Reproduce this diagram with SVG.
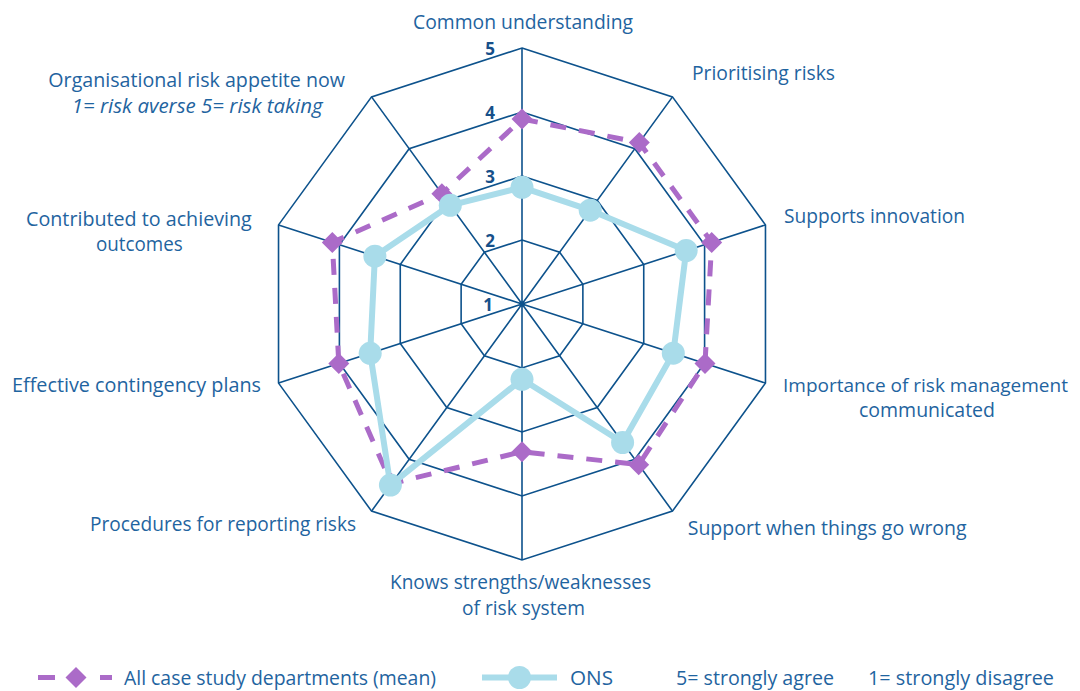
<svg xmlns="http://www.w3.org/2000/svg" xmlns:xlink="http://www.w3.org/1999/xlink" width="1080" height="691" viewBox="0 0 1080 691">
<style>
.lbl{font-family:"Open Sans","Liberation Sans",sans-serif;font-size:20px;fill:#1f64a0;text-anchor:middle}
.it{font-style:italic}
.sm{font-size:19px}
.lg{font-family:"Open Sans","Liberation Sans",sans-serif;font-size:20px;fill:#1f64a0;text-anchor:start}
.num{font-family:"Open Sans","Liberation Sans",sans-serif;font-size:17px;font-weight:bold;fill:#17508a;text-anchor:end}
.grid{fill:none;stroke:#0d528c;stroke-width:1.6;stroke-linejoin:miter}
.mean{fill:none;stroke:#ab6bc8;stroke-width:5;stroke-dasharray:16 13}
.ons{fill:none;stroke:#a9dcea;stroke-width:6;stroke-linejoin:round}
.dia{fill:#ab6bc8}
.dot{fill:#a9dcea}
</style>
<defs>
<path id="diamond" d="M0,-10.5 L10.5,0 L0,10.5 L-10.5,0Z"/>
</defs>
<rect width="1080" height="691" fill="#ffffff"/>

<g id="grid">
<polygon class="grid" points="522,48 672.47,96.89 765.47,224.89 765.47,383.11 672.47,511.11 522,560 371.53,511.11 278.53,383.11 278.53,224.89 371.53,96.89"/>
<polygon class="grid" points="522,112 634.85,148.67 704.6,244.67 704.6,363.33 634.85,459.33 522,496 409.15,459.33 339.4,363.33 339.4,244.67 409.15,148.67"/>
<polygon class="grid" points="522,176 597.24,200.45 643.74,264.45 643.74,343.55 597.24,407.55 522,432 446.76,407.55 400.26,343.55 400.26,264.45 446.76,200.45"/>
<polygon class="grid" points="522,240 559.62,252.22 582.87,284.22 582.87,323.78 559.62,355.78 522,368 484.38,355.78 461.13,323.78 461.13,284.22 484.38,252.22"/>
<path class="grid" d="M522,304 L522,48 M522,304 L672.47,96.89 M522,304 L765.47,224.89 M522,304 L765.47,383.11 M522,304 L672.47,511.11 M522,304 L522,560 M522,304 L371.53,511.11 M522,304 L278.53,383.11 M522,304 L278.53,224.89 M522,304 L371.53,96.89"/>
<circle cx="522" cy="304" r="2.5" fill="#0d528c"/>
</g>

<g id="scale">
<text class="num" x="495" y="55">5</text>
<text class="num" x="495" y="119">4</text>
<text class="num" x="495" y="183">3</text>
<text class="num" x="495" y="247">2</text>
<text class="num" x="493" y="311">1</text>
</g>

<g id="axis-labels">
<g id="lbl-common"><text class="lbl" x="523" y="29" textLength="220" lengthAdjust="spacingAndGlyphs">Common understanding</text></g>
<g id="lbl-prioritising"><text class="lbl" x="763.5" y="80" textLength="143" lengthAdjust="spacingAndGlyphs">Prioritising risks</text></g>
<g id="lbl-innovation"><text class="lbl" x="874.5" y="222.5" textLength="181" lengthAdjust="spacingAndGlyphs">Supports innovation</text></g>
<g id="lbl-importance"><text class="lbl sm" x="925.5" y="391.7" textLength="285" lengthAdjust="spacingAndGlyphs">Importance of risk management</text><text class="lbl" x="927" y="417.3" textLength="136" lengthAdjust="spacingAndGlyphs">communicated</text></g>
<g id="lbl-support"><text class="lbl" x="827.2" y="535" textLength="279" lengthAdjust="spacingAndGlyphs">Support when things go wrong</text></g>
<g id="lbl-knows"><text class="lbl" x="520.5" y="589" textLength="261" lengthAdjust="spacingAndGlyphs">Knows strengths/weaknesses</text><text class="lbl" x="523.5" y="615" textLength="123" lengthAdjust="spacingAndGlyphs">of risk system</text></g>
<g id="lbl-procedures"><text class="lbl" x="223" y="531" textLength="266" lengthAdjust="spacingAndGlyphs">Procedures for reporting risks</text></g>
<g id="lbl-contingency"><text class="lbl" x="136.5" y="392" textLength="249" lengthAdjust="spacingAndGlyphs">Effective contingency plans</text></g>
<g id="lbl-contributed"><text class="lbl" x="138.9" y="225.7" textLength="225.7" lengthAdjust="spacingAndGlyphs">Contributed to achieving</text><text class="lbl" x="139.3" y="250.7" textLength="86.7" lengthAdjust="spacingAndGlyphs">outcomes</text></g>
<g id="lbl-appetite"><text class="lbl" x="196.7" y="86.7" textLength="296.7" lengthAdjust="spacingAndGlyphs">Organisational risk appetite now</text><text class="lbl it" x="197.2" y="113.3" textLength="251" lengthAdjust="spacingAndGlyphs">1= risk averse 5= risk taking</text></g>
</g>

<g id="connectors">
<polygon id="series-mean" class="mean" points="522,119 639.3,142.5 711.7,242.4 705,363.5 638.7,464.7 522,451.7 391.5,483.6 338.8,363.5 332.3,242.4 441.9,193.8"/>
<polygon id="series-ons" class="ons" points="522,187.3 590.2,210.2 686.2,250.6 673.3,353.2 622.6,442.5 522,379.3 390.4,485.1 370.2,353.3 374.9,256.2 450.3,205.3"/>
</g>

<g id="mean-points">
<g id="m0"><use href="#diamond" class="dia" x="522" y="119"/></g>
<g id="m1"><use href="#diamond" class="dia" x="639.3" y="142.5"/></g>
<g id="m2"><use href="#diamond" class="dia" x="711.7" y="242.4"/></g>
<g id="m3"><use href="#diamond" class="dia" x="705" y="363.5"/></g>
<g id="m4"><use href="#diamond" class="dia" x="638.7" y="464.7"/></g>
<g id="m5"><use href="#diamond" class="dia" x="522" y="451.7"/></g>
<g id="m6"><use href="#diamond" class="dia" x="391.5" y="483.6"/></g>
<g id="m7"><use href="#diamond" class="dia" x="338.8" y="363.5"/></g>
<g id="m8"><use href="#diamond" class="dia" x="332.3" y="242.4"/></g>
<g id="m9"><use href="#diamond" class="dia" x="441.9" y="193.8"/></g>
</g>

<g id="ons-points">
<g id="o0"><circle class="dot" cx="522" cy="187.3" r="11.5"/></g>
<g id="o1"><circle class="dot" cx="590.2" cy="210.2" r="11.5"/></g>
<g id="o2"><circle class="dot" cx="686.2" cy="250.6" r="11.5"/></g>
<g id="o3"><circle class="dot" cx="673.3" cy="353.2" r="11.5"/></g>
<g id="o4"><circle class="dot" cx="622.6" cy="442.5" r="11.5"/></g>
<g id="o5"><circle class="dot" cx="522" cy="379.3" r="11.5"/></g>
<g id="o6"><circle class="dot" cx="390.4" cy="485.1" r="11.5"/></g>
<g id="o7"><circle class="dot" cx="370.2" cy="353.3" r="11.5"/></g>
<g id="o8"><circle class="dot" cx="374.9" cy="256.2" r="11.5"/></g>
<g id="o9"><circle class="dot" cx="450.3" cy="205.3" r="11.5"/></g>
</g>

<g id="legend">
<g id="legend-mean">
<path d="M38,677.5 L55,677.5 M100,677.5 L112,677.5" stroke="#ab6bc8" stroke-width="5" fill="none"/>
<use href="#diamond" class="dia" x="76" y="677.5"/>
<text class="lg" x="124" y="684.5" textLength="312" lengthAdjust="spacingAndGlyphs">All case study departments (mean)</text>
</g>
<g id="legend-ons">
<path d="M482,677.5 L557,677.5" stroke="#a9dcea" stroke-width="6" fill="none"/>
<circle class="dot" cx="519.5" cy="677.5" r="11.5"/>
<text class="lg" x="570" y="684.5" textLength="43" lengthAdjust="spacingAndGlyphs">ONS</text>
</g>
<g id="legend-scale">
<text class="lg" x="676" y="684.5" textLength="158" lengthAdjust="spacingAndGlyphs">5= strongly agree</text>
<text class="lg" x="868" y="684.5" textLength="186" lengthAdjust="spacingAndGlyphs">1= strongly disagree</text>
</g>
</g>
</svg>
